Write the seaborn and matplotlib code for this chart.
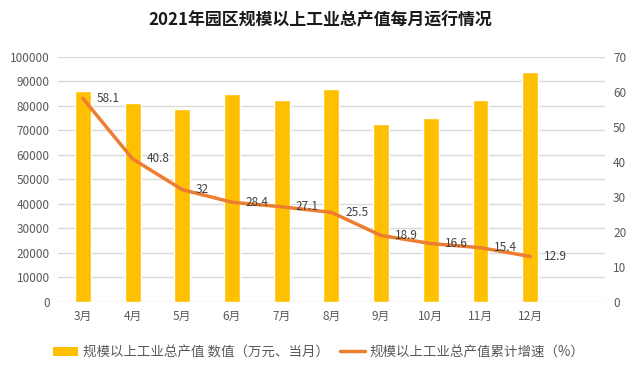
import numpy as np
import pandas as pd
import seaborn as sns
import matplotlib.pyplot as plt
from matplotlib.patches import Patch
from matplotlib.lines import Line2D

sns.set_theme(style="white")
plt.rcParams['font.family'] = ['Noto Sans CJK SC', 'DejaVu Sans']

months = ['3月', '4月', '5月', '6月', '7月', '8月', '9月', '10月', '11月', '12月']
output_value = [86100, 81000, 78500, 84700, 82300, 86700, 72500, 74900, 82300, 93900]
growth_rate = [58.1, 40.8, 32, 28.4, 27.1, 25.5, 18.9, 16.6, 15.4, 12.9]

bar_label = '规模以上工业总产值 数值（万元、当月）'
line_label = '规模以上工业总产值累计增速（%）'

df = pd.DataFrame({'month': months, 'value': output_value, 'growth': growth_rate,
                   'pos': np.arange(len(months))})

fig = plt.figure(figsize=(6.4, 3.77), dpi=100)
ax = fig.add_axes([0.0906, 0.2, 0.8544, 0.6496])

sns.barplot(data=df, x='month', y='value', color='#FFC000', saturation=1,
            width=0.32, ax=ax)
ax.set_xlim(-0.5, 10.5)
ax.set_ylim(0, 100000)
ax.set_yticks(np.arange(0, 100001, 10000))
ax.yaxis.grid(True, color='#D9D9D9', linewidth=1)
ax.set_axisbelow(True)
ax.set_xlabel('')
ax.set_ylabel('')
for s in ax.spines.values():
    s.set_visible(False)
ax.tick_params(axis='both', colors='#595959', labelsize=8.5, length=0, pad=6)

ax2 = ax.twinx()
sns.lineplot(data=df, x='pos', y='growth', color='#ED7D31', linewidth=2.5, ax=ax2)
ax2.set_ylim(0, 70)
ax2.set_yticks(np.arange(0, 71, 10))
ax2.set_ylabel('')
ax2.set_xlabel('')
for s in ax2.spines.values():
    s.set_visible(False)
ax2.tick_params(axis='y', colors='#595959', labelsize=8.5, length=0, pad=6)
ax2.set_xlim(-0.5, 10.5)
ax2.set_xticks(df['pos'])
ax.set_xticklabels(months)

for p, g in zip(df['pos'], df['growth']):
    ax2.annotate(f'{g:g}', (p, g), xytext=(10, 0), textcoords='offset points',
                 ha='left', va='center', fontsize=8.5, color='#404040')

fig.text(0.5, 0.947, '2021年园区规模以上工业总产值每月运行情况', ha='center', va='center',
         fontsize=12.2, fontweight='bold', color='#1a1a1a')

handles = [Patch(facecolor='#FFC000', edgecolor='none'),
           Line2D([0], [0], color='#ED7D31', linewidth=2.5)]
fig.legend(handles, [bar_label, line_label], loc='center', bbox_to_anchor=(0.498, 0.066),
           ncol=2, frameon=False, fontsize=9.7, handlelength=1.85, handletextpad=0.37,
           columnspacing=0.8, labelcolor='#595959')

fig.savefig('out.png', dpi=100)
